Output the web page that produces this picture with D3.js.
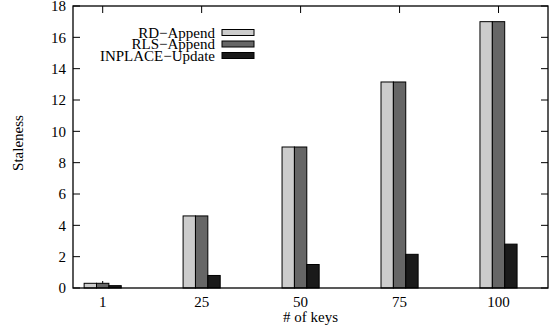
<!DOCTYPE html>
<html lang="en">
<head>
<meta charset="UTF-8">
<title>Staleness vs keys</title>
<script src="https://d3js.org/d3.v7.min.js"></script>
<style>
    body { margin: 0; background: #fff; }
    svg text { font-family: "Liberation Serif", Times, "Times New Roman", serif; font-size: 15px; }
</style>
</head>
<body>
<svg id="chart" width="552" height="329"></svg>
<script>
    const categories = ["1", "25", "50", "75", "100"];
    const seriesNames = ["RD\u2212Append", "RLS\u2212Append", "INPLACE\u2212Update"];
    const rdAppend = [0.3, 4.6, 9.0, 13.15, 17.0];
    const rlsAppend = [0.3, 4.6, 9.0, 13.15, 17.0];
    const inplaceUpdate = [0.15, 0.8, 1.5, 2.15, 2.8];
    const yTicks = [0, 2, 4, 6, 8, 10, 12, 14, 16, 18];
    const colors = ["#cccccc", "#666666", "#1a1a1a"];

    const series = [rdAppend, rlsAppend, inplaceUpdate];
    const margin = { top: 6, right: 4, bottom: 41, left: 73 };
    const width = 552 - margin.left - margin.right;
    const height = 329 - margin.top - margin.bottom;

    const svg = d3.select("#chart");
    const g = svg.append("g").attr("transform", `translate(${margin.left},${margin.top})`);

    // x is a linear index scale (like gnuplot xrange [-0.3:4.5])
    const x = d3.scaleLinear().domain([-0.3, 4.5]).range([0, width]);
    const y = d3.scaleLinear().domain([0, 18]).range([height, 0]);
    const barW = x(0.125) - x(0);
    const tickLen = 7;

    // ticks (drawn under the bars)
    const ticks = g.append("g").attr("stroke", "#000").attr("stroke-width", 1);
    yTicks.forEach(t => {
        ticks.append("line").attr("x1", 0).attr("x2", tickLen).attr("y1", y(t)).attr("y2", y(t));
        ticks.append("line").attr("x1", width).attr("x2", width - tickLen).attr("y1", y(t)).attr("y2", y(t));
    });
    categories.forEach((c, i) => {
        ticks.append("line").attr("x1", x(i)).attr("x2", x(i)).attr("y1", height).attr("y2", height - tickLen);
        ticks.append("line").attr("x1", x(i)).attr("x2", x(i)).attr("y1", 0).attr("y2", tickLen);
    });

    // bars
    series.forEach((vals, s) => {
        g.append("g").selectAll("rect")
            .data(vals)
            .enter().append("rect")
            .attr("x", (d, i) => x(i + (s - 1) * 0.125) - barW / 2)
            .attr("y", d => y(d))
            .attr("width", barW)
            .attr("height", d => y(0) - y(d))
            .attr("fill", colors[s])
            .attr("stroke", "#000")
            .attr("stroke-width", 1);
    });

    // frame
    g.append("rect").attr("width", width).attr("height", height)
        .attr("fill", "none").attr("stroke", "#000").attr("stroke-width", 1.3);

    // tick labels
    g.selectAll("text.ylab").data(yTicks).enter().append("text")
        .attr("class", "ylab")
        .attr("x", -7).attr("y", d => y(d)).attr("dy", "0.35em")
        .attr("text-anchor", "end").text(d => d);
    g.selectAll("text.xlab").data(categories).enter().append("text")
        .attr("class", "xlab")
        .attr("x", (d, i) => x(i)).attr("y", height + 19)
        .attr("text-anchor", "middle").text(d => d);

    // axis titles
    g.append("text").attr("x", width / 2).attr("y", height + 34)
        .attr("text-anchor", "middle").text("# of keys");
    svg.append("text")
        .attr("transform", `translate(23,${margin.top + height / 2 - 4}) rotate(-90)`)
        .attr("text-anchor", "middle").text("Staleness");

    // legend
    const legend = svg.append("g");
    seriesNames.forEach((name, s) => {
        const cy = 32.5 + s * 11.5;
        legend.append("text").attr("x", 215).attr("y", cy).attr("dy", "0.35em")
            .attr("text-anchor", "end").text(name);
        legend.append("rect").attr("x", 222).attr("y", cy - 3).attr("width", 32).attr("height", 6)
            .attr("fill", colors[s]).attr("stroke", "#000").attr("stroke-width", 1);
    });
</script>
</body>
</html>
